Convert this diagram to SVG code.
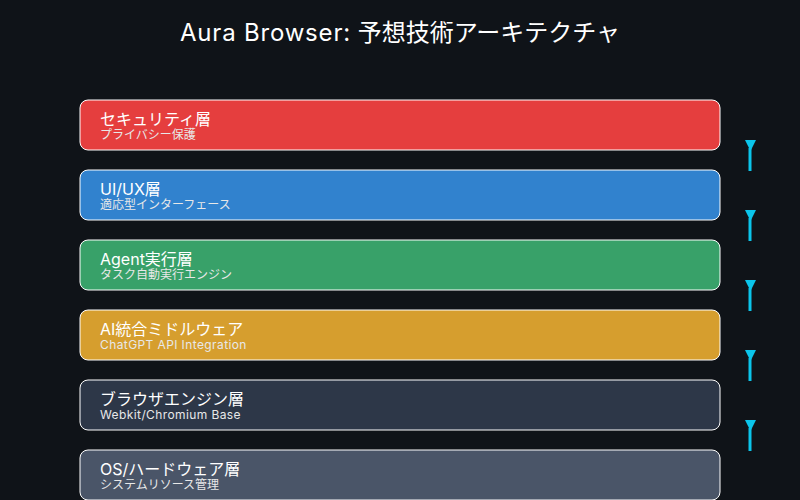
<svg xmlns="http://www.w3.org/2000/svg" width="800" height="500" viewBox="0 0 800 500">
<style>
text{font-family:Inter,"Noto Sans CJK JP",sans-serif;fill:#fff}
.t{font-size:24px}
.l{font-size:16px}
.s{font-size:12px;fill:#e8e8e8}
.w{letter-spacing:0.4px}
.b{stroke:#fff;stroke-width:1}
.a{stroke:#0bc5ea;stroke-width:3}
.h{fill:#0bc5ea}
</style>
<rect width="800" height="500" fill="#0f1318"/>
<text class="t" x="400" y="41" text-anchor="middle"><tspan letter-spacing="0.8">Aura Browser:</tspan> 予想技術アーキテクチャ</text>
<g id="security"><rect class="b" x="80" y="100" width="640" height="50" rx="8" fill="#e53e3e"/><text class="l" x="100" y="125">セキュリティ層</text><text class="s" x="100" y="139">プライバシー保護</text></g>
<g id="uiux"><rect class="b" x="80" y="170" width="640" height="50" rx="8" fill="#3182ce"/><text class="l" x="100" y="195">UI/UX層</text><text class="s" x="100" y="209">適応型インターフェース</text></g>
<g id="agent"><rect class="b" x="80" y="240" width="640" height="50" rx="8" fill="#38a169"/><text class="l" x="100" y="265">Agent実行層</text><text class="s" x="100" y="279">タスク自動実行エンジン</text></g>
<g id="ai"><rect class="b" x="80" y="310" width="640" height="50" rx="8" fill="#d69e2e"/><text class="l" x="100" y="335">AI統合ミドルウェア</text><text class="s w" x="100" y="349">ChatGPT API Integration</text></g>
<g id="engine"><rect class="b" x="80" y="380" width="640" height="50" rx="8" fill="#2d3748"/><text class="l" x="100" y="405">ブラウザエンジン層</text><text class="s w" x="100" y="419">Webkit/Chromium Base</text></g>
<g id="os"><rect class="b" x="80" y="450" width="640" height="50" rx="8" fill="#4a5568"/><text class="l" x="100" y="475">OS/ハードウェア層</text><text class="s" x="100" y="489">システムリソース管理</text></g>
<g id="connectors">
<line class="a" x1="750" y1="148" x2="750" y2="171"/><polygon class="h" points="745,140 756,140 750.5,151"/>
<line class="a" x1="750" y1="218" x2="750" y2="241"/><polygon class="h" points="745,210 756,210 750.5,221"/>
<line class="a" x1="750" y1="288" x2="750" y2="311"/><polygon class="h" points="745,280 756,280 750.5,291"/>
<line class="a" x1="750" y1="358" x2="750" y2="381"/><polygon class="h" points="745,350 756,350 750.5,361"/>
<line class="a" x1="750" y1="428" x2="750" y2="451"/><polygon class="h" points="745,420 756,420 750.5,431"/>
</g>
</svg>
